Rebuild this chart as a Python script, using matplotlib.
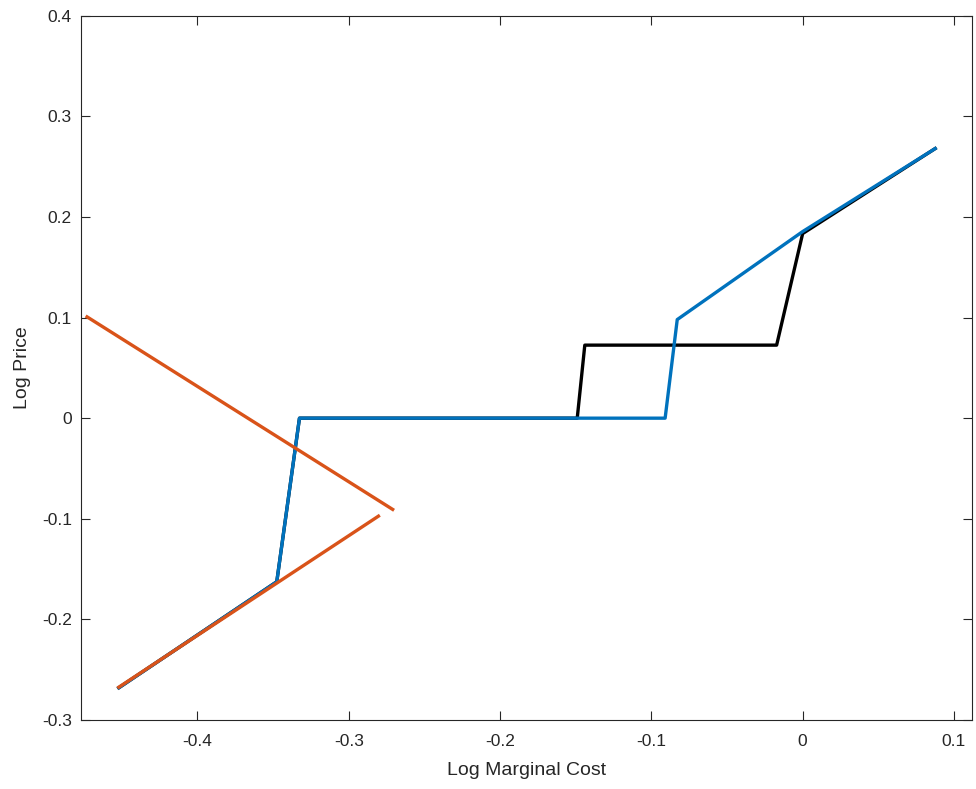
import matplotlib
matplotlib.use("Agg")
import matplotlib.pyplot as plt

# series
black_x = [0.0876, 0.0, -0.0172, -0.144, -0.149, -0.3326, -0.3476, -0.452]
black_y = [0.268, 0.1835, 0.0726, 0.0726, 0.0, 0.0, -0.1626, -0.268]

blue_x = [0.0876, 0.0, -0.0829, -0.0909, -0.3326, -0.3476, -0.452]
blue_y = [0.268, 0.1855, 0.098, 0.0, 0.0, -0.1626, -0.268]

orange1_x = [-0.473, -0.271]
orange1_y = [0.1007, -0.0907]
orange2_x = [-0.452, -0.2804]
orange2_y = [-0.2674, -0.0974]

xticks = [-0.4, -0.3, -0.2, -0.1, 0, 0.1]
yticks = [-0.3, -0.2, -0.1, 0, 0.1, 0.2, 0.3, 0.4]

plt.rcParams['font.family'] = ['Liberation Sans', 'DejaVu Sans']

fig = plt.figure(figsize=(9.76, 7.89), dpi=100)
ax = fig.add_axes([0.083, 0.0875, 0.913, 0.8925])

ax.plot(black_x, black_y, color='black', lw=2.4)
ax.plot(blue_x, blue_y, color='#0072BD', lw=2.4)
ax.plot(orange1_x, orange1_y, color='#D95319', lw=2.4)
ax.plot(orange2_x, orange2_y, color='#D95319', lw=2.4)

ax.set_xlim(-0.477, 0.112)
ax.set_ylim(-0.3, 0.4)
ax.set_xticks(xticks)
ax.set_xticklabels(['-0.4', '-0.3', '-0.2', '-0.1', '0', '0.1'])
ax.set_yticks(yticks)
ax.set_yticklabels(['-0.3', '-0.2', '-0.1', '0', '0.1', '0.2', '0.3', '0.4'])
ax.tick_params(direction='in', top=True, right=True, length=6.5, width=0.8,
               colors='#262626', labelsize=12.5, labelcolor='#262626')
ax.tick_params(axis='x', pad=10)
ax.tick_params(axis='y', pad=6.5)
for s in ax.spines.values():
    s.set_color('#262626')
    s.set_linewidth(0.8)

ax.set_xlabel('Log Marginal Cost', fontsize=14, color='#262626', labelpad=9.5)
ax.set_ylabel('Log Price', fontsize=14, color='#262626', labelpad=8)

fig.savefig('out.png', dpi=100)
